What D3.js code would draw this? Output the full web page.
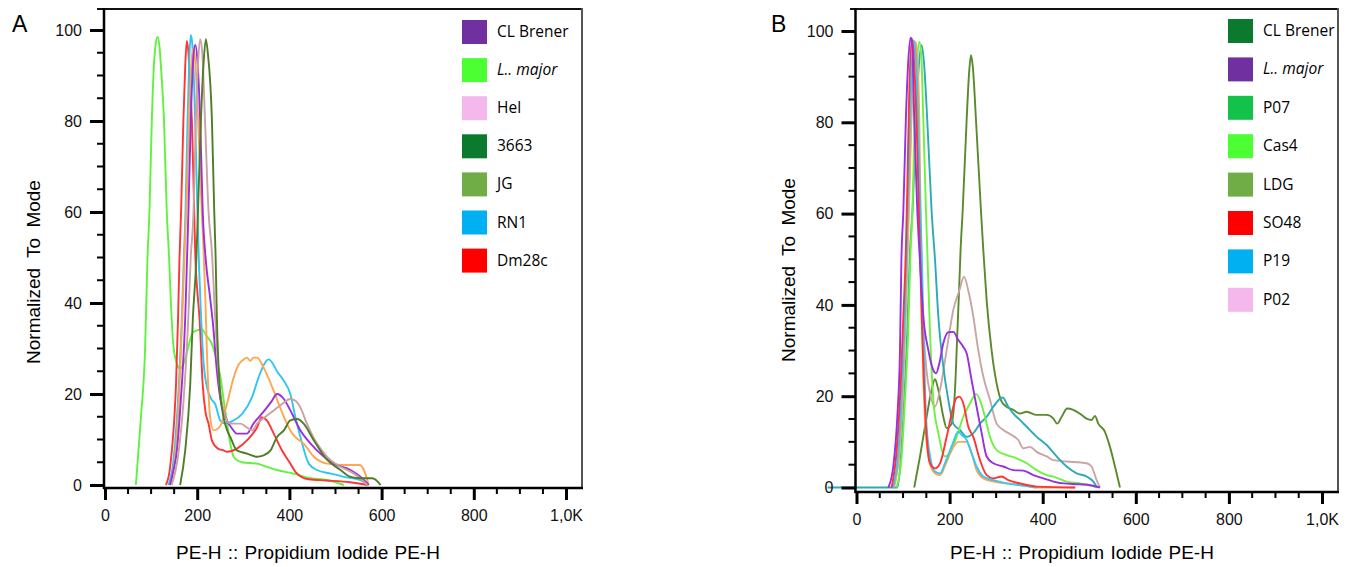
<!DOCTYPE html>
<html>
<head>
<meta charset="utf-8">
<script src="https://cdn.jsdelivr.net/npm/d3@7"></script>
<style>
  html, body { margin: 0; padding: 0; background: #fff; }
  svg { display: block; }
  .tick-label { font-family: "Liberation Sans", Arial, sans-serif; font-size: 16px; fill: #111; }
  .axis-title { font-family: "Liberation Sans", Arial, sans-serif; font-size: 19px; fill: #000; }
  .panel-label { font-family: "Liberation Sans", Arial, sans-serif; font-size: 23px; fill: #000; }
  .legend-text { font-family: "Open Sans", "Noto Sans", sans-serif; font-size: 15.5px; fill: #000; }
</style>
</head>
<body>
<svg id="chart" width="1355" height="567"></svg>
<script>
// ---------------- DATA ----------------
const xTickValues = [0, 200, 400, 600, 800, 1000];
const xTickLabels = ["0", "200", "400", "600", "800", "1,0K"];
const yTickValues = [0, 20, 40, 60, 80, 100];
const yTickLabels = ["0", "20", "40", "60", "80", "100"];

// Panel A legend
const legendA_names = ["CL Brener", "L.. major", "Hel", "3663", "JG", "RN1", "Dm28c"];
const legendA_colors = ["#7030A0", "#4CFF33", "#F5B8EC", "#0B7A2E", "#70AD47", "#00B0F0", "#FF0000"];
const legendA_italic = [false, true, false, false, false, false, false];

// Panel B legend
const legendB_names = ["CL Brener", "L.. major", "P07", "Cas4", "LDG", "SO48", "P19", "P02"];
const legendB_colors = ["#0B7A2E", "#7030A0", "#12C24B", "#4CFF33", "#70AD47", "#FF0000", "#00B0F0", "#F5B8EC"];
const legendB_italic = [false, true, false, false, false, false, false, false];

// Panel A histogram traces  [PE-H value, % of mode]
const A_lmajor = [[67,0],[70,4],[78,15],[87,30],[92,49.5],[96.4,60],[101.5,80],[106,92],[110,97],[113.8,98.5],[118,96.5],[122,91],[128,80],[134,60],[139,50],[143,40],[148,31],[155,27],[163,25.5],[170,26.5],[180,30],[190,33.5],[200,34],[210,34.2],[222,32.5],[232,31],[243,27],[250,24],[257,19],[265,13.5],[272,9],[279,6.2],[297,5],[330,4.7],[351,4],[373,3.3],[409,2.5],[446,1.5],[482,1.1],[518,0]];
const A_dm28c = [[132,0],[140,3],[145,7.6],[150,14],[154,22],[158.5,36.7],[161.5,49.5],[165,60],[170,80],[174,92],[177.5,97.6],[181,95],[185,87],[188.5,80],[193.5,60],[196,50],[200,43],[205,36.7],[212,22],[218,16],[224.6,13.5],[232,9.8],[245,8],[257,7.6],[265,7.3],[286,8],[308,9.8],[330,12.7],[340,14.9],[351,14.2],[366,11.3],[384,7.6],[402,4.7],[413,2.9],[442,1.25],[480,1],[532,0.6],[569,0]];
const A_rn1 = [[137.7,0],[148,5],[158,18],[166,35],[171,50],[174.6,60],[179,80],[183,94],[186.3,98.9],[190,96],[195.6,80],[200.5,60],[204,48],[208,38],[213,28],[220,22],[230,19],[239,17.8],[250,14.2],[261,13.5],[279,14.2],[297,15.6],[319,19.3],[333,23.6],[345,26.5],[355,27.6],[365,26.5],[373,25],[388,22.9],[402,20],[413,14.9],[424,10.5],[442,4.7],[460,3.3],[490,2.5],[518,1.8],[554,1.1],[572,0]];
const A_orange = [[142,0],[152,6],[161,20],[168,38],[173,52],[177,62],[182,80],[187,92],[191,96],[195,94],[200,85],[205,72],[210,60],[214,51],[218,40],[221,29.5],[228,15],[235.5,12],[248.5,12.7],[264.5,17.8],[279,23.6],[290,26.5],[300.7,27.6],[308,28],[315,27.3],[322,28],[330,28],[344,25.8],[366,20.7],[380,17],[402,12],[413,10.5],[431,9.1],[453,6.2],[482,4.7],[518,4.4],[552,4.4],[561.5,3.3],[572,0]];
const A_clbrener = [[141,0],[148,3],[156,7.6],[162,15],[166.7,22],[174,36.7],[178,50],[181,60],[186,80],[191,93],[195.6,96.7],[200,94],[206.5,80],[212,60],[219,49],[227,42],[235.5,34],[241,27],[246,22],[252,18],[258,16],[264.5,14.2],[275,12.5],[286,11.3],[308,11.3],[322,13.5],[337,15.3],[351,17],[362,18.5],[373,20],[388,18.9],[402,16.4],[424,12],[446,9.1],[475,6.2],[496,4.7],[532.6,3.3],[554,1.8],[572,0]];
const A_hel = [[145,0],[158,6],[170,18],[180,35],[186,50],[192,60],[197,80],[202,93],[206.5,98],[211,95],[217,80],[224.6,60],[232,51],[239,36.7],[248.5,22],[261,15],[272,13.5],[293.5,13.5],[310,12.5],[319,12],[330,13.5],[348,15],[366,16.4],[384,17.8],[402,18.9],[413,18.5],[424,17],[438,13.5],[460,9.1],[482,6.2],[511,4],[540,2.5],[569,0]];
const A_3663 = [[163,0],[174,7.6],[184.8,22],[190.6,36.7],[198,49.5],[201.6,60],[208,80],[214,93],[218.8,98],[223,95],[232,80],[237,60],[240,50],[242.7,36.7],[248.5,22],[257,15],[265,12],[272,10.5],[286,7.6],[308,6.9],[330,6.2],[344,6.5],[359,7.6],[373,10.5],[388,12],[402,14.2],[417,14.5],[431,13.5],[453,9.8],[482,5.5],[511,3.3],[532.6,1.8],[554,1.5],[580,1.5],[598,0]];

// Panel B histogram traces
const B_purple = [[68.4,0],[79,4.6],[87.7,15.5],[93.4,30],[96.5,50],[100.6,60.4],[106,80.5],[111,93],[116.4,98.6],[120,96],[124,80.5],[130.7,60.4],[135,52],[143.6,37.4],[154.3,30.1],[165,25.7],[170.8,25],[178,27.2],[186.5,31.6],[197,34],[208,34.1],[218.7,32.3],[229.5,30.8],[236.6,29.4],[247.3,23.5],[258,17.7],[268.9,11.9],[279.6,6.8],[294,5.3],[315.4,4.6],[337,3.8],[358.4,3.7],[380,2.7],[401.4,2],[423,1.3],[444,0.9],[480,0.7],[501.6,0.5],[523,0]];
const B_red = [[75.5,0],[86.3,8.2],[95,22.8],[100.6,37.4],[106,52],[109,65],[113,85],[118.5,98.4],[122,96],[126,88],[129,80.5],[134,60.4],[136.4,52],[140,37.4],[145,22.8],[150.7,11.1],[158,5.3],[168.6,4.2],[179.4,5.3],[193.7,11.1],[208,17.7],[214,19.5],[221,19.9],[229.5,18.4],[240.2,13.3],[250.9,11.1],[265.3,6],[279.6,2.7],[294,2],[311.8,2.4],[326,1.6],[351,0.9],[387,0.2],[470,0]];
const B_cyan = [[79,0],[90,8],[98,22],[104,38],[108,52],[112,68],[117,88],[123,98],[127,95],[132,82],[136,65],[140,52],[145,30.1],[149.3,15.5],[158,6.8],[168.6,3.5],[179.4,3.1],[190,5.3],[204.4,9],[218.7,12.2],[225.9,11.5],[236.6,10.4],[247.3,7.5],[258,4.6],[272.4,2.4],[294,1.6],[322.5,0.9],[365.5,0.3],[387,0]];
const B_orange = [[80.5,0],[92,8],[100,22],[106,38],[110,52],[114,66],[120,88],[127,97.6],[131,94],[135,80],[137,65],[138.5,52],[142,30],[147,15.5],[154.3,6.8],[165,3.5],[179.4,2.7],[192.3,5.3],[204.4,8.2],[218.7,10],[236.6,10],[247.3,7.5],[258,3.8],[272.4,2],[294,1.3],[322.5,0.9],[358.4,0.5],[387,0],[470,0]];
const B_green = [[86,0],[97,6.8],[104,19],[111,33.8],[116.3,52],[120,60],[125,80],[130,93],[135,97.6],[139,95],[143.6,80.5],[149.3,60.4],[152,52],[158,33.8],[165,19.2],[175.8,11.9],[190,6.8],[201,7.5],[215,11.1],[229.5,15.5],[243.8,18.4],[256.7,20.5],[265,19.2],[276,15.5],[286.7,11.1],[301,8.2],[322.5,7.1],[344,6.4],[365.5,5.3],[387,3.8],[408.5,2.7],[423,2.4],[451.5,1.3],[480,0.9],[501.6,0.5],[516,0]];
const B_teal = [[-62,0],[0,0],[60,0],[87.7,0],[95,6],[100.6,15.5],[109,33.8],[115,52],[121,62],[127,78],[133,91],[140,96.9],[145,93],[152,80.5],[161.4,60.4],[168.6,50],[175.8,37.4],[186.5,26.5],[197.2,19.2],[208,14],[222.3,12.6],[236.6,11.1],[251,11.9],[265.3,14],[279.6,15.5],[294,17.7],[314,19.7],[326,17.7],[337,16.2],[351,14.8],[365.5,13.3],[387,11.1],[408.5,9.3],[430,6.8],[451.5,4.6],[473,3.1],[494.4,2.4],[508.7,1.3],[517,0]];
const B_pink = [[80,0],[92,8],[100,24],[106,42],[110,55],[115,72],[120,90],[124,97],[128,94],[132,80],[135,62],[137,52],[142,38],[150,26],[158,20.6],[168.6,17.7],[179.4,21.4],[193.7,30.1],[208,38.9],[221,43.2],[231,46.2],[240,43.2],[251,37.4],[261.6,30.1],[272.4,24.3],[286.7,19.2],[301,14],[315.4,12.6],[333.3,11.5],[347.6,10.4],[358.4,8.6],[372.7,8.9],[387,7.8],[408.5,6.8],[423,6],[451.5,5.7],[494.4,5.3],[505,4.6],[515.8,1.6],[523,0]];
const B_olive = [[124,0],[136.4,6.8],[150.7,15.5],[161.4,21.4],[168.6,23.7],[175.7,21.4],[186.5,15.5],[193.7,13],[204.4,14],[211.6,21.4],[216.6,33.8],[220.9,44.7],[223.6,52],[228,60.4],[236.6,80.5],[242,91],[246,94.7],[250,92],[256.7,80.5],[267.5,60.4],[272.4,52],[279.6,41],[290.3,30],[301,22.8],[311.8,18.8],[322.5,17.7],[336.9,17],[351,16.2],[365.5,16.6],[387,15.9],[408.5,15.9],[423,15.1],[431,14],[440.8,15.5],[452.8,17.3],[465.7,17],[483.6,15.9],[494.4,15.1],[505,14.8],[512.2,15.7],[519.4,14],[533.7,12.2],[544.5,8.9],[555.3,4.6],[566,0]];

// trace line colours (drawing order)
const A_traces = [A_lmajor, A_dm28c, A_rn1, A_orange, A_clbrener, A_hel, A_3663];
const A_traceColors = ["#5FF23E", "#FF3434", "#30C6F2", "#FFA64F", "#9A2FDD", "#C9A2A2", "#4F7D27"];
const B_traces = [B_olive, B_pink, B_teal, B_green, B_orange, B_cyan, B_red, B_purple];
const B_traceColors = ["#5A8A2C", "#CBA5A5", "#2DAAB6", "#6DF241", "#FFA64F", "#35C8F2", "#FF3434", "#9A2FDD"];

// ---------------- DRAW ----------------
const svg = d3.select("#chart");

function drawPanel(cfg) {
  const g = svg.append("g");
  const x = d3.scaleLinear().domain([0, 1000]).range([cfg.x0, cfg.x1]);
  const y = d3.scaleLinear().domain([0, 100]).range([cfg.y0, cfg.y100]);
  const axisY = cfg.axisY;

  // frame: top and right
  g.append("line").attr("x1", cfg.frameLeft).attr("x2", cfg.frameRight)
    .attr("y1", cfg.frameTop).attr("y2", cfg.frameTop)
    .attr("stroke", "#111").attr("stroke-width", 2);
  g.append("line").attr("x1", cfg.frameRight).attr("x2", cfg.frameRight)
    .attr("y1", cfg.frameTop - 1).attr("y2", axisY)
    .attr("stroke", "#555").attr("stroke-width", 2);

  // traces
  const line = d3.line().x(d => x(d[0])).y(d => y(d[1])).curve(d3.curveMonotoneX);
  cfg.traces.forEach((t, i) => {
    g.append("path").datum(t).attr("d", line)
      .attr("fill", "none").attr("stroke", cfg.traceColors[i])
      .attr("stroke-width", 1.9).attr("stroke-linejoin", "round");
  });

  // y axis
  const yAx = d3.axisLeft(y).tickValues(yTickValues)
    .tickFormat((d, i) => yTickLabels[i]).tickSize(14).tickPadding(8);
  const gy = g.append("g").attr("transform", `translate(${cfg.x0 - 1},0)`).call(yAx);
  gy.select(".domain").remove();
  gy.selectAll(".tick line").attr("stroke", "#000").attr("stroke-width", 3);
  gy.selectAll(".tick text").attr("class", "tick-label").attr("font-size", null).attr("font-family", null);
  const yMinor = d3.range(5, 100, 5).filter(v => v % 20 !== 0);
  g.append("g").selectAll("line").data(yMinor).join("line")
    .attr("x1", cfg.x0 - 8).attr("x2", cfg.x0 - 1)
    .attr("y1", d => y(d)).attr("y2", d => y(d))
    .attr("stroke", "#000").attr("stroke-width", 2);
  g.append("line").attr("x1", cfg.x0 - 1).attr("x2", cfg.x0 - 1)
    .attr("y1", cfg.frameTop - 1).attr("y2", axisY + 1)
    .attr("stroke", "#000").attr("stroke-width", 2.5);

  // x axis
  const xAx = d3.axisBottom(x).tickValues(xTickValues)
    .tickFormat((d, i) => xTickLabels[i]).tickSize(12).tickPadding(10);
  const gx = g.append("g").attr("transform", `translate(0,${axisY})`).call(xAx);
  gx.select(".domain").remove();
  gx.selectAll(".tick line").attr("stroke", "#000").attr("stroke-width", 3);
  gx.selectAll(".tick text").attr("class", "tick-label").attr("font-size", null).attr("font-family", null);
  const xMinor = d3.range(50, 1000, 50).filter(v => v % 200 !== 0);
  g.append("g").selectAll("line").data(xMinor).join("line")
    .attr("x1", d => x(d)).attr("x2", d => x(d))
    .attr("y1", axisY).attr("y2", axisY + 6)
    .attr("stroke", "#000").attr("stroke-width", 2);
  g.append("line").attr("x1", cfg.x0 - 2).attr("x2", cfg.frameRight + 1)
    .attr("y1", axisY).attr("y2", axisY)
    .attr("stroke", "#000").attr("stroke-width", 2.5);

  // axis titles
  g.append("text").attr("class", "axis-title")
    .attr("transform", `translate(${cfg.yTitleX},${cfg.yTitleY}) rotate(-90)`)
    .attr("text-anchor", "middle").attr("word-spacing", "5px").text("Normalized To Mode");
  g.append("text").attr("class", "axis-title")
    .attr("x", cfg.xTitleX).attr("y", cfg.xTitleY)
    .attr("text-anchor", "middle").attr("word-spacing", "1px").text("PE-H :: Propidium Iodide PE-H");

  // panel label
  g.append("text").attr("class", "panel-label")
    .attr("x", cfg.labelX).attr("y", 32).text(cfg.label);

  // legend
  const lg = g.append("g");
  cfg.legendNames.forEach((name, i) => {
    const top = cfg.legTop + i * cfg.legStep;
    lg.append("rect").attr("x", cfg.legX).attr("y", top)
      .attr("width", 25).attr("height", 24).attr("fill", cfg.legendColors[i]);
    lg.append("text").attr("class", "legend-text")
      .attr("x", cfg.legX + 35).attr("y", top + 17)
      .attr("font-style", cfg.legendItalic[i] ? "italic" : "normal")
      .text(name);
  });
}

drawPanel({
  label: "A", labelX: 12,
  x0: 105, x1: 566, y0: 485, y100: 30, axisY: 488,
  frameLeft: 97, frameRight: 582, frameTop: 9,
  traces: A_traces, traceColors: A_traceColors,
  legendNames: legendA_names, legendColors: legendA_colors, legendItalic: legendA_italic,
  legX: 462, legTop: 20, legStep: 38.1,
  yTitleX: 40, yTitleY: 272, xTitleX: 308, xTitleY: 559
});

drawPanel({
  label: "B", labelX: 771,
  x0: 856.5, x1: 1322, y0: 487.5, y100: 31, axisY: 492,
  frameLeft: 850, frameRight: 1338, frameTop: 9,
  traces: B_traces, traceColors: B_traceColors,
  legendNames: legendB_names, legendColors: legendB_colors, legendItalic: legendB_italic,
  legX: 1228, legTop: 19, legStep: 38.4,
  yTitleX: 795, yTitleY: 270, xTitleX: 1082, xTitleY: 559
});
</script>
</body>
</html>
